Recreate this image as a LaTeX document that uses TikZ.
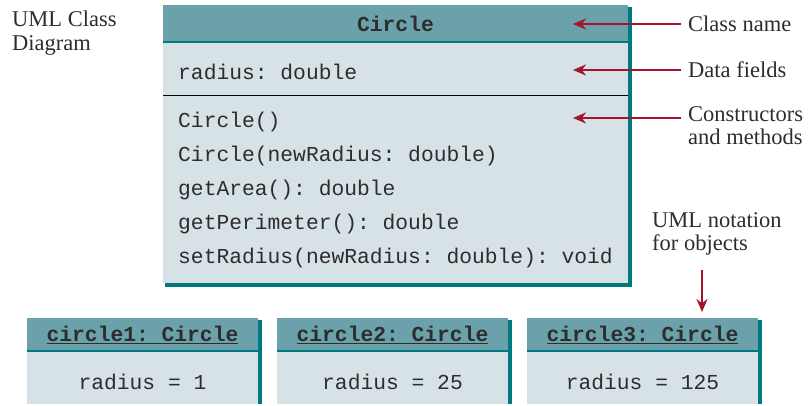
\documentclass[tikz,border=0pt]{standalone}
\usepackage{fontspec}
\setmainfont{Liberation Serif}
\setmonofont{Liberation Mono}
\usetikzlibrary{arrows.meta,calc}
\definecolor{hdr}{RGB}{106,161,171}
\definecolor{bodyc}{RGB}{215,226,230}
\definecolor{teal}{RGB}{0,122,128}
\definecolor{redarr}{RGB}{166,20,44}
\definecolor{txt}{RGB}{45,45,45}
\tikzset{
  mono/.style={font=\fontsize{21.3}{25}\selectfont\ttfamily, text=txt, inner sep=0pt},
  monob/.style={font=\fontsize{21.3}{25}\selectfont\ttfamily\bfseries, text=txt, inner sep=0pt},
  lbl/.style={font=\fontsize{22.5}{23.5}\selectfont, text=txt, inner sep=0pt, align=left},
  redarrow/.style={draw=redarr, line width=2.6pt, -{Stealth[length=13pt,width=11pt]}},
  shadowline/.style={draw=teal, line width=3.5pt},
  hdrline/.style={draw=teal, line width=2.5pt},
}
\newcommand{\objbox}[4]{%
  \fill[bodyc] (#2,318) rectangle ++(231,86);
  \fill[hdr] (#2,318) rectangle ++(231,33);
  \draw[hdrline] (#2,351) -- ++(231,0);
  \draw[shadowline] ($(#2,320)+(233,0)$) -- ++(0,84);
  \node[monob] (#1h) at ($(#2,335)+(115.5,0)$) {\underline{#3}};
  \node[mono] (#1b) at ($(#2,382)+(115.5,0)$) {#4};
}
\begin{document}
\begin{tikzpicture}[x=1pt,y=-1pt]
\useasboundingbox (0,0) rectangle (808,405);
% main class box
\fill[bodyc] (163,5) rectangle (628,283);
\fill[hdr] (163,5) rectangle (628,42);
\draw[hdrline] (163,42) -- (628,42);
\draw[black, line width=1pt] (163,95) -- (628,95);
\draw[shadowline] (630,7) -- (630,285) -- (165,285);
\node[monob] (cname) at (395.5,24) {Circle};
\node[mono, anchor=west] (f1) at (178,72) {radius: double};
\node[mono, anchor=west] (m1) at (178,122) {Circle()};
\node[mono, anchor=west] (m2) at (178,156) {Circle(newRadius: double)};
\node[mono, anchor=west] (m3) at (178,190) {getArea(): double};
\node[mono, anchor=west] (m4) at (178,224) {getPerimeter(): double};
\node[mono, anchor=west] (m5) at (178,258) {setRadius(newRadius: double): void};
% left label
\node[lbl, anchor=north west] (uml) at (12,11) {UML Class\\Diagram};
% right labels
\node[lbl, anchor=west] (l1) at (688,24) {Class name};
\node[lbl, anchor=west] (l2) at (688,70) {Data fields};
\node[lbl, anchor=north west] (l3) at (688,106) {Constructors\\and methods};
\coordinate (t1) at (573,24);
\coordinate (t2) at (573,70);
\coordinate (t3) at (573,118);
\draw[redarrow] ([xshift=-7pt]l1.west) -- (t1);
\draw[redarrow] ([xshift=-7pt]l2.west) -- (t2);
\draw[redarrow] ([xshift=-7pt]l3.west |- t3) -- (t3);
% objects label
\node[lbl, anchor=north west] (l4) at (652,212) {UML notation\\for objects};
\coordinate (v1) at (702,270);
\coordinate (v2) at (702,312);
\draw[redarrow] (v1) -- (v2);
% object boxes
\objbox{o1}{27}{circle1: Circle}{radius = 1}
\objbox{o2}{277}{circle2: Circle}{radius = 25}
\objbox{o3}{527}{circle3: Circle}{radius = 125}
\end{tikzpicture}
\end{document}
